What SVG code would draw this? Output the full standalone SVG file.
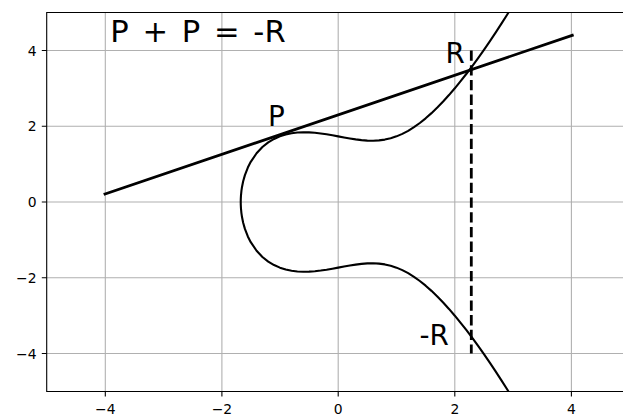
<svg xmlns="http://www.w3.org/2000/svg" width="623" height="417" viewBox="0 0 623 417">
<style>
.grid{stroke:#b0b0b0;stroke-width:1.1;fill:none}
.spine{stroke:#000;stroke-width:1.1;fill:none;stroke-linecap:square}
.tick{stroke:#000;stroke-width:1.1}
.tl{font-family:"DejaVu Sans",sans-serif;font-size:13.9px;fill:#000}
.lbl{font-family:"DejaVu Sans",sans-serif;font-size:27.8px;fill:#000}
</style>
<defs>
<clipPath id="ax"><rect x="46.7" y="12.5" width="583" height="379"/></clipPath>
</defs>
<rect width="623" height="417" fill="#fff"/>
<g id="grid" clip-path="url(#ax)">
<path class="grid" d="M105.3,12.5V391.5M221.9,12.5V391.5M338.2,12.5V391.5M454.8,12.5V391.5M571.4,12.5V391.5M46.7,50.5H630M46.7,126.3H630M46.7,202H630M46.7,277.8H630M46.7,353.5H630"/>
</g>
<g id="connectors" clip-path="url(#ax)">
<g id="curve" transform="matrix(58.3 0 0 -37.9 338.2 202)">
<path vector-effect="non-scaling-stroke" fill="none" stroke="#000" stroke-width="2.1" stroke-linejoin="round" d="M3,-5.196 L2.9,-4.9487 L2.8,-4.7066 L2.7,-4.4702 L2.6,-4.2398 L2.5,-4.0156 L2.4,-3.7979 L2.3,-3.5871 L2.2,-3.3835 L2.1,-3.1876 L2,-3 L1.9,-2.8212 L1.8,-2.6518 L1.7,-2.4926 L1.6,-2.3443 L1.5,-2.2079 L1.4,-2.0842 L1.3,-1.9741 L1.2,-1.8783 L1.1,-1.7975 L1,-1.7321 L0.9,-1.682 L0.8,-1.6468 L0.7,-1.6257 L0.6,-1.6174 L0.5,-1.6202 L0.4,-1.6322 L0.3,-1.6514 L0.2,-1.6757 L0.1,-1.7032 L0,-1.7321 L-0.1,-1.7604 L-0.2,-1.7866 L-0.3,-1.8091 L-0.4,-1.8265 L-0.5,-1.8371 L-0.6,-1.8396 L-0.7,-1.8322 L-0.8,-1.8133 L-0.9,-1.7807 L-1,-1.7321 L-1.1,-1.664 L-1.2,-1.5723 L-1.3,-1.4502 L-1.4,-1.2869 L-1.5,-1.0607 L-1.55,-0.9089 L-1.6,-0.7099 L-1.63,-0.547 L-1.65,-0.3973 L-1.66,-0.2928 L-1.668,-0.1651 L-1.671,-0.0719 L-1.6717,0 L-1.671,0.0719 L-1.668,0.1651 L-1.66,0.2928 L-1.65,0.3973 L-1.63,0.547 L-1.6,0.7099 L-1.55,0.9089 L-1.5,1.0607 L-1.4,1.2869 L-1.3,1.4502 L-1.2,1.5723 L-1.1,1.664 L-1,1.7321 L-0.9,1.7807 L-0.8,1.8133 L-0.7,1.8322 L-0.6,1.8396 L-0.5,1.8371 L-0.4,1.8265 L-0.3,1.8091 L-0.2,1.7866 L-0.1,1.7604 L0,1.7321 L0.1,1.7032 L0.2,1.6757 L0.3,1.6514 L0.4,1.6322 L0.5,1.6202 L0.6,1.6174 L0.7,1.6257 L0.8,1.6468 L0.9,1.682 L1,1.7321 L1.1,1.7975 L1.2,1.8783 L1.3,1.9741 L1.4,2.0842 L1.5,2.2079 L1.6,2.3443 L1.7,2.4926 L1.8,2.6518 L1.9,2.8212 L2,3 L2.1,3.1876 L2.2,3.3835 L2.3,3.5871 L2.4,3.7979 L2.5,4.0156 L2.6,4.2398 L2.7,4.4702 L2.8,4.7066 L2.9,4.9487 L3,5.196"/>
</g>
<line id="tangent" x1="105" y1="194" x2="572.3" y2="35.3" stroke="#000" stroke-width="2.8" stroke-linecap="square"/>
<line id="reflect" x1="471.3" y1="50.5" x2="471.3" y2="353.5" stroke="#000" stroke-width="2.8" stroke-dasharray="10.3 4.4"/>
</g>
<g id="axes">
<path class="spine" d="M46.7,12.5V391.5H630M46.7,12.5H630"/>
<path class="tick" d="M41.8,50.5H46.7M41.8,126.3H46.7M41.8,202H46.7M41.8,277.8H46.7M41.8,353.5H46.7M105.3,391.5V396.4M221.9,391.5V396.4M338.2,391.5V396.4M454.8,391.5V396.4M571.4,391.5V396.4"/>
<g class="tl" text-anchor="end">
<text x="36.5" y="55.5">4</text>
<text x="36.5" y="131.3">2</text>
<text x="36.5" y="207">0</text>
<text x="36.5" y="282.8">−2</text>
<text x="36.5" y="358.5">−4</text>
</g>
<g class="tl" text-anchor="middle">
<text x="105.3" y="413.5">−4</text>
<text x="221.9" y="413.5">−2</text>
<text x="338.2" y="413.5">0</text>
<text x="454.8" y="413.5">2</text>
<text x="571.4" y="413.5">4</text>
</g>
</g>
<g id="labels">
<text id="title" class="lbl" x="110.3" y="41.7" style="font-size:30.6px" word-spacing="4">P + P = -R</text>
<text id="P" class="lbl" x="268" y="126">P</text>
<text id="R" class="lbl" x="445.6" y="63.3">R</text>
<text id="negR" class="lbl" x="419.4" y="345">-R</text>
</g>
</svg>
